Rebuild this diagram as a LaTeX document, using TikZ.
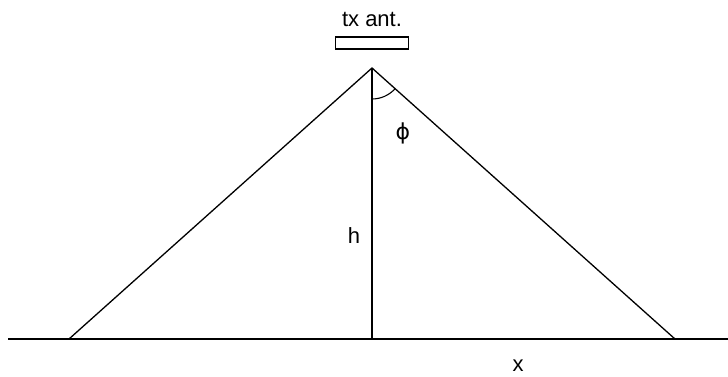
\documentclass[tikz,border=0pt]{standalone}
\usepackage{fontspec}
\setmainfont{Liberation Sans}
\newfontfamily\symfont{DejaVu Sans}
\usetikzlibrary{positioning}

\begin{document}
\begin{tikzpicture}[
    x=1pt, y=-1pt,
    line/.style={line width=1.3pt},
    lbl/.style={font=\fontsize{22}{26}\selectfont, inner sep=0pt}
]
\useasboundingbox (0,0) rectangle (728,376);
% geometry
\coordinate (apex) at (372,68);
\coordinate (base) at (372,339);
\coordinate (lfoot) at (69,339);
\coordinate (rfoot) at (675,339);
\coordinate (gl) at (8,339);
\coordinate (gr) at (728,339);
% antenna
\node[draw, line width=1.2pt, minimum width=73pt, minimum height=12pt, inner sep=0pt] (ant) at (372,43) {};
\node[lbl, above=9pt of ant] (antlbl) {tx ant.};
% ground and rays
\draw[line] (gl) -- (gr);
\draw[line] (lfoot) -- (apex) -- (rfoot);
\draw[line] (apex) -- (base);
\draw[line width=1.1pt] ([shift={(90:31)}]apex) arc[start angle=90, end angle=41.8, radius=31];
% labels
\node[lbl] (philbl) at (403,133) {\symfont ϕ};
\node[lbl] (hlbl) at (354,236) {h};
\node[lbl] (xlbl) at (518,366) {x};
\end{tikzpicture}
\end{document}
